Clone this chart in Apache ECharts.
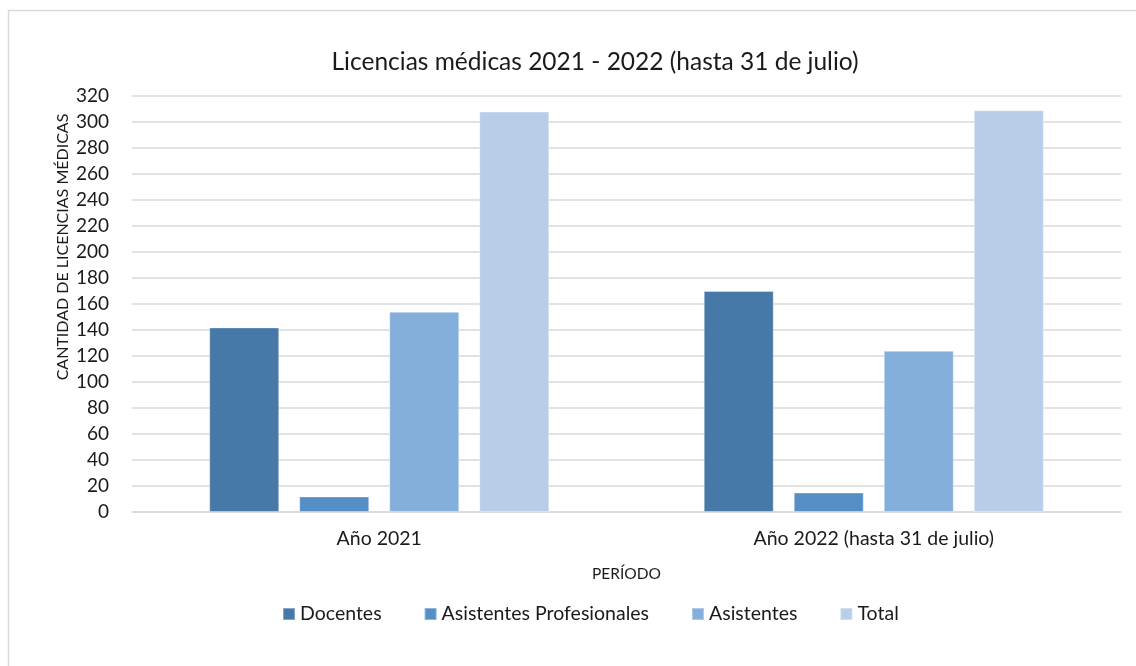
<!DOCTYPE html>
<html>
<head>
<meta charset="utf-8">
<script src="https://cdn.jsdelivr.net/npm/echarts@6/dist/echarts.min.js"></script>
<style>
html,body{margin:0;padding:0;background:#fff;}
#c{width:1136px;height:666px;}
</style>
</head>
<body>
<div id="c"></div>
<script>
var categories = ['Año 2021', 'Año 2022 (hasta 31 de julio)'];
var seriesNames = ['Docentes', 'Asistentes Profesionales', 'Asistentes', 'Total'];
var docentes = [142, 170];
var asistentesProfesionales = [12, 15];
var asistentes = [154, 124];
var total = [308, 309];
var colors = ['#4678a8', '#558fc6', '#85afdb', '#b8cde8'];
var FONT = 'Lato, "Open Sans", sans-serif';

var values = [docentes, asistentesProfesionales, asistentes, total];
var chart = echarts.init(document.getElementById('c'));
chart.setOption({
  animation: false,
  backgroundColor: '#fff',
  title: {
    text: 'Licencias médicas 2021 - 2022 (hasta 31 de julio)',
    left: 590, top: 45, textAlign: 'center',
    textStyle: {fontFamily: FONT, fontSize: 24.5, fontWeight: 'normal', color: '#1a1a1a'}
  },
  graphic: [
    {type: 'rect', shape: {x: 8.5, y: 10.5, width: 1140, height: 700}, style: {fill: 'none', stroke: '#d9d9d9', lineWidth: 1.5}, silent: true},
    {type: 'text', x: 63, y: 247, rotation: Math.PI / 2,
     style: {text: 'CANTIDAD DE LICENCIAS MÉDICAS', fontFamily: FONT, fontSize: 16, fill: '#1a1a1a', align: 'center', verticalAlign: 'middle'}}
  ],
  legend: {
    data: seriesNames,
    left: 282, top: 604, padding: 0,
    itemWidth: 12, itemHeight: 12, itemGap: 42,
    icon: 'rect',
    textStyle: {fontFamily: FONT, fontSize: 19.5, color: '#1a1a1a'}
  },
  grid: {left: 132, right: 15, top: 96, bottom: 154},
  xAxis: {
    type: 'category',
    data: categories,
    name: 'PERÍODO',
    nameLocation: 'middle',
    nameGap: 54,
    nameTextStyle: {fontFamily: FONT, fontSize: 15.5, color: '#1a1a1a'},
    axisLine: {show: true, lineStyle: {color: '#d9d9d9', width: 1.5}},
    axisTick: {show: false},
    axisLabel: {fontFamily: FONT, fontSize: 19.5, color: '#1a1a1a', margin: 17}
  },
  yAxis: {
    type: 'value',
    min: 0, max: 320, interval: 20,
    axisLine: {show: false},
    axisTick: {show: false},
    axisLabel: {fontFamily: FONT, fontSize: 19, color: '#1a1a1a', margin: 23},
    splitLine: {lineStyle: {color: '#d9d9d9', width: 1.5}}
  },
  series: seriesNames.map(function (n, i) {
    return {
      name: n, type: 'bar', data: values[i],
      barWidth: 70, barGap: '28.6%',
      itemStyle: {color: colors[i], borderColor: 'rgba(255,255,255,0.35)', borderWidth: 1}
    };
  })
});
</script>
</body>
</html>
